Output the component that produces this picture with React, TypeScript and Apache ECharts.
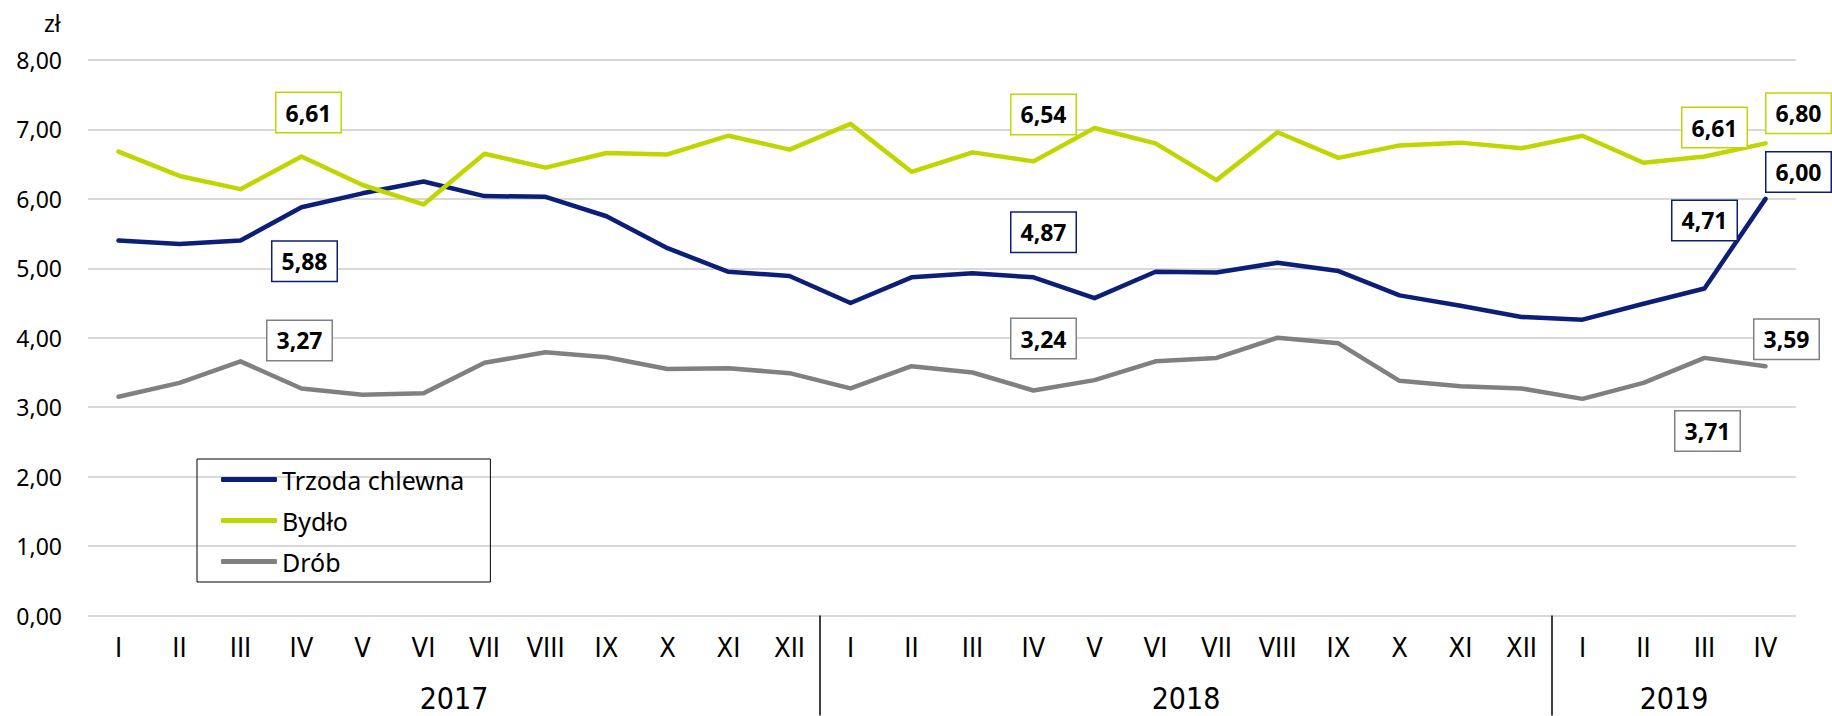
import React, { useEffect, useRef } from "react";
import * as echarts from "echarts";

const monthNames = ["I", "II", "III", "IV", "V", "VI", "VII", "VIII", "IX", "X", "XI", "XII"];
const years = ["2017", "2018", "2019"];
const yearMonthCounts = [12, 12, 4];
const categories: string[] = yearMonthCounts.flatMap((n) => monthNames.slice(0, n));

const trzoda = [5.40, 5.35, 5.40, 5.88, 6.08, 6.25, 6.04, 6.03, 5.75, 5.29, 4.95, 4.89,
  4.50, 4.87, 4.93, 4.87, 4.57, 4.95, 4.94, 5.08, 4.96, 4.61, 4.46, 4.30,
  4.26, 4.49, 4.71, 6.00];
const bydlo = [6.68, 6.33, 6.14, 6.61, 6.20, 5.92, 6.65, 6.45, 6.66, 6.64, 6.91, 6.71,
  7.08, 6.39, 6.67, 6.54, 7.02, 6.80, 6.27, 6.96, 6.59, 6.77, 6.81, 6.73,
  6.91, 6.52, 6.61, 6.80];
const drob = [3.15, 3.35, 3.66, 3.27, 3.18, 3.20, 3.64, 3.79, 3.72, 3.55, 3.56, 3.49,
  3.27, 3.59, 3.50, 3.24, 3.39, 3.66, 3.71, 4.00, 3.92, 3.38, 3.30, 3.27,
  3.12, 3.35, 3.71, 3.59];

const seriesNames = ["Trzoda chlewna", "Bydło", "Drób"];
const colors = ["#0b1f78", "#bfd600", "#808080"];

// label layout: index -> [dx, dy] offset of label centre from the point
const labelOffsets: Record<number, [number, number]>[] = [
  { 3: [3, 54], 15: [10, -45], 26: [0, -68], 27: [33, -27] },
  { 3: [7, -44], 15: [10, -47], 26: [10, -29], 27: [33, -30] },
  { 3: [-2, -48], 15: [10, -52], 26: [3, 73], 27: [21, -27] },
];

const FONT = "'Noto Sans', 'DejaVu Sans', sans-serif";
const NARROW = "'Liberation Sans Narrow', 'DejaVu Sans Condensed', 'Open Sans', sans-serif";
const fmt = (v: number) => v.toFixed(2).replace(".", ",");

export default function App() {
  const ref = useRef<HTMLDivElement>(null);
  useEffect(() => {
    if (!ref.current) return;
    const chart = echarts.init(ref.current, null, { renderer: "svg" });
    const allValues = [trzoda, bydlo, drob];

    const yearStarts: number[] = [];
    let acc = 0;
    yearMonthCounts.forEach((n) => { yearStarts.push(acc); acc += n; });
    const total = acc;
    const yearCenters = yearMonthCounts.map((n, i) => yearStarts[i] + n / 2);
    const separators = yearStarts.slice(1);

    const series = allValues.map((vals, s) => ({
      name: seriesNames[s],
      type: "line",
      xAxisIndex: 0,
      yAxisIndex: 0,
      symbol: "none",
      showSymbol: true,
      showAllSymbol: true,
      lineStyle: { color: colors[s], width: 4.5, cap: "round", join: "round" },
      itemStyle: { color: colors[s] },
      z: 2 + s,
      data: vals.map((v, i) => {
        const off = labelOffsets[s][i];
        if (!off) return v;
        return {
          value: v,
          symbol: "circle",
          symbolSize: 1,
          label: {
            show: true,
            position: "inside",
            offset: off,
            formatter: () => fmt(v),
            fontFamily: FONT,
            fontWeight: "bold",
            fontSize: 23,
            lineHeight: 24,
            color: "#000",
            backgroundColor: "#fff",
            borderColor: colors[s],
            borderWidth: 1.5,
            padding: [8, 9, 7, 9],
          },
        };
      }),
    }));

    chart.setOption({
      animation: false,
      backgroundColor: "#fff",
      textStyle: { fontFamily: FONT, color: "#000" },
      grid: { left: 88, right: 36, top: 60, bottom: 100.5, containLabel: false },
      legend: {
        orient: "vertical",
        left: 197,
        top: 459,
        data: seriesNames,
        icon: "roundRect",
        itemWidth: 56,
        itemHeight: 5,
        itemGap: 16,
        borderColor: "#000",
        borderWidth: 1,
        padding: [8, 26, 8, 24],
        textStyle: { fontFamily: FONT, fontSize: 25, color: "#000" },
      },
      graphic: [
        {
          type: "text",
          left: 44,
          top: 11,
          style: { text: "zł", fontFamily: FONT, fontSize: 23, fill: "#000" },
        },
      ],
      xAxis: [
        {
          type: "category",
          data: categories,
          boundaryGap: true,
          axisLine: { show: false },
          axisTick: { show: false },
          axisLabel: {
            interval: 0,
            margin: 18,
            fontFamily: NARROW,
            fontSize: 27,
            color: "#000",
          },
        },
        {
          type: "value",
          min: 0,
          max: total,
          position: "bottom",
          axisLine: { show: false },
          splitLine: { show: false },
          axisTick: {
            show: true,
            customValues: separators,
            length: 100,
            lineStyle: { color: "#000", width: 1.5 },
          },
          axisLabel: {
            customValues: yearCenters,
            margin: 68,
            fontFamily: NARROW,
            fontSize: 30,
            color: "#000",
            formatter: (v: number) => {
              const idx = yearCenters.findIndex((c) => Math.abs(c - v) < 1e-6);
              return idx >= 0 ? years[idx] : "";
            },
          },
        },
      ],
      yAxis: {
        type: "value",
        min: 0,
        max: 8,
        interval: 1,
        axisLine: { show: false },
        axisTick: { show: false },
        splitLine: { lineStyle: { color: "#d9d9d9", width: 2 } },
        axisLabel: {
          margin: 26,
          fontFamily: FONT,
          fontSize: 23,
          color: "#000",
          formatter: (v: number) => fmt(v),
        },
      },
      series,
    });
    return () => chart.dispose();
  }, []);
  return (
    <div
      ref={ref}
      style={{ position: "fixed", left: 0, top: 0, width: 1832, height: 716, background: "#fff" }}
    />
  );
}
